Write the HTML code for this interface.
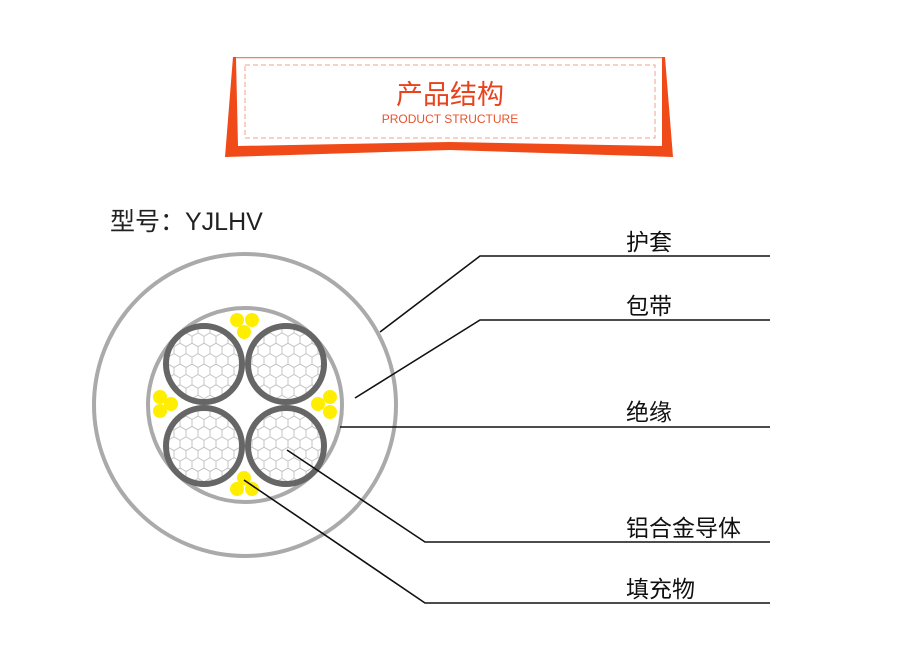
<!DOCTYPE html>
<html><head><meta charset="utf-8"><style>
html,body{margin:0;padding:0;background:#fff;width:900px;height:666px;overflow:hidden}
svg{display:block}
</style></head><body>
<svg width="900" height="666" viewBox="0 0 900 666" xmlns="http://www.w3.org/2000/svg">
<defs>
<pattern id="hex" width="12" height="20.8" patternUnits="userSpaceOnUse">
<path d="M0,3.5 L6,0 L12,3.5 M0,3.5 L0,10.4 L6,13.9 L12,10.4 L12,3.5 M6,13.9 L6,20.8" fill="none" stroke="#b8b8b8" stroke-width="0.8"/>
</pattern>
</defs>
<!-- banner -->
<polygon points="233,57 665,57 673,157 450,150 225,157" fill="#f04a18"/>
<polygon points="236,58.5 662,58.5 662,146 450,142 238,146" fill="#fff"/>
<line x1="236" y1="58" x2="662" y2="58" stroke="#f7b8a5" stroke-width="1"/>
<rect x="245" y="65" width="410" height="73" fill="none" stroke="#f0a08c" stroke-width="1" stroke-dasharray="5,3"/>
<text x="450" y="104" text-anchor="middle" font-family="Liberation Sans,Noto Sans CJK SC,sans-serif" font-size="27" fill="#e8431e">产品结构</text>
<text x="450" y="123" text-anchor="middle" font-family="Liberation Sans,Noto Sans CJK SC,sans-serif" font-size="12" fill="#e8532e">PRODUCT STRUCTURE</text>
<!-- model -->
<text x="110" y="230" font-family="Liberation Sans,Noto Sans CJK SC,sans-serif" font-size="25" fill="#222">型号：YJLHV</text>
<!-- cable -->
<circle cx="245" cy="405" r="151" fill="#fff" stroke="#aaa" stroke-width="4"/>
<circle cx="245" cy="405" r="97" fill="#fff" stroke="#aaa" stroke-width="4"/>
<g fill="url(#hex)" stroke="#666" stroke-width="6">
<circle cx="204" cy="364" r="38"/>
<circle cx="286" cy="364" r="38"/>
<circle cx="204" cy="446" r="38"/>
<circle cx="286" cy="446" r="38"/>
</g>
<g fill="#ffee00">
<circle cx="237" cy="320" r="7"/><circle cx="252" cy="320" r="7"/><circle cx="244" cy="332" r="7"/>
<circle cx="160" cy="397" r="7"/><circle cx="160" cy="411" r="7"/><circle cx="171" cy="404" r="7"/>
<circle cx="330" cy="397" r="7"/><circle cx="330" cy="412" r="7"/><circle cx="318" cy="404" r="7"/>
<circle cx="244" cy="478" r="7"/><circle cx="237" cy="489" r="7"/><circle cx="252" cy="489" r="7"/>
</g>
<!-- leaders -->
<g fill="none" stroke="#111" stroke-width="1.6">
<polyline points="380,332 480,256 770,256"/>
<polyline points="355,398 480,320 770,320"/>
<polyline points="340,427 770,427"/>
<polyline points="287,450 425,542 770,542"/>
<polyline points="244,480 425,603 770,603"/>
</g>
<g font-family="Liberation Sans,Noto Sans CJK SC,sans-serif" font-size="23" fill="#111">
<text x="626" y="250">护套</text>
<text x="626" y="314">包带</text>
<text x="626" y="420">绝缘</text>
<text x="626" y="536">铝合金导体</text>
<text x="626" y="597">填充物</text>
</g>
</svg>
</body></html>
